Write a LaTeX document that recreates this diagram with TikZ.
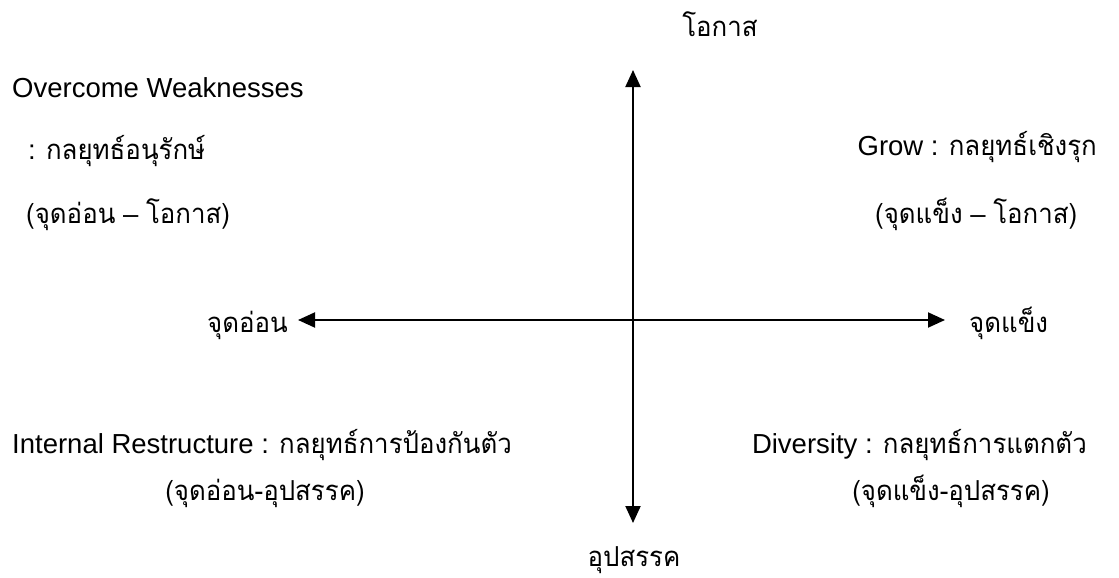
\documentclass[tikz,border=0pt]{standalone}
\usepackage{fontspec}
\setmainfont{Liberation Sans}
\newfontfamily\thai[Script=Thai,FakeStretch=0.94]{Loma}
\usetikzlibrary{arrows.meta}
\newcommand{\thtxt}[1]{{\fontsize{27.5}{32}\selectfont\thai #1}}
\tikzset{
  lbl/.style={inner sep=0pt, font=\fontsize{27.5}{32}\selectfont},
  th/.style={inner sep=0pt, font=\fontsize{27.5}{32}\selectfont\thai},
  axis/.style={line width=2pt, {Triangle[length=17pt,width=15pt]}-{Triangle[length=17pt,width=15pt]}}
}
\begin{document}
\begin{tikzpicture}[x=1pt,y=-1pt]
\useasboundingbox (0,0) rectangle (1119,578);
% axes
\coordinate (L) at (298,320);
\coordinate (R) at (945,320);
\coordinate (T) at (633,70);
\coordinate (B) at (633,523);
\draw[axis] (L) -- (R);
\draw[axis] (T) -- (B);
% axis labels
\node[th, anchor=base] (opp) at (720,37) {โอกาส};
\node[th, anchor=base] (thr) at (634,566) {อุปสรรค};
\node[th, anchor=base east] (weak) at (288,332) {จุดอ่อน};
\node[th, anchor=base west] (str) at (969,332) {จุดแข็ง};
% top-left
\node[lbl, anchor=base west] (ow) at (12,97) {Overcome Weaknesses};
\node[lbl, anchor=base west] (ow2) at (28,159) {: \thtxt{กลยุทธ์อนุรักษ์}};
\node[lbl, anchor=base west] (ow3) at (26,223) {\thtxt{(จุดอ่อน} – \thtxt{โอกาส)}};
% top-right
\node[lbl, anchor=base east] (gr) at (1097,155) {Grow : \thtxt{กลยุทธ์เชิงรุก}};
\node[lbl, anchor=base west] (gr2) at (875,223) {\thtxt{(จุดแข็ง} – \thtxt{โอกาส)}};
% bottom-left
\node[lbl, anchor=base west] (ir) at (12,453) {Internal Restructure : \thtxt{กลยุทธ์การป้องกันตัว}};
\node[th, anchor=base] (ir2) at (265,500) {(จุดอ่อน-อุปสรรค)};
% bottom-right
\node[lbl, anchor=base east] (dv) at (1087,453) {Diversity : \thtxt{กลยุทธ์การแตกตัว}};
\node[th, anchor=base] (dv2) at (951,500) {(จุดแข็ง-อุปสรรค)};
\end{tikzpicture}
\end{document}
